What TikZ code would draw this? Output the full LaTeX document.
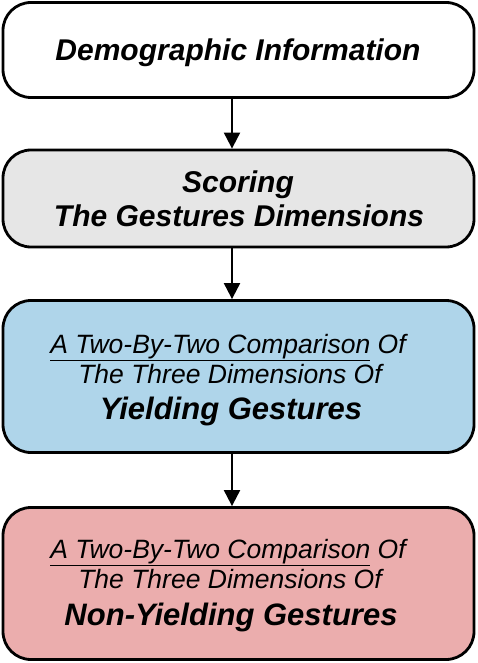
\documentclass[tikz,border=0pt]{standalone}
\usepackage{fontspec}
\setmainfont{Liberation Sans}
\usetikzlibrary{arrows.meta}
\definecolor{boxgray}{HTML}{E6E6E6}
\definecolor{boxblue}{HTML}{AFD5EA}
\definecolor{boxpink}{HTML}{EBADAD}
\begin{document}
\begin{tikzpicture}[x=1pt,y=-1pt,
  flowbox/.style={draw=black,line width=2.8pt,rounded corners=28pt,minimum width=471pt,inner sep=0pt},
  titletext/.style={anchor=base,inner sep=0pt,font=\fontsize{30}{34}\selectfont\bfseries\itshape},
  smalltext/.style={anchor=base,inner sep=0pt,font=\fontsize{26.5}{30}\selectfont\itshape},
  bigtext/.style={anchor=base,inner sep=0pt,font=\fontsize{31}{34}\selectfont\bfseries\itshape},
  flowarrow/.style={line width=2pt,-{Triangle[length=16pt,width=16pt]}}]
\useasboundingbox (0,0) rectangle (477,663);
\node[flowbox,fill=white,minimum height=95pt] (b1) at (238.5,50) {};
\node[flowbox,fill=boxgray,minimum height=97pt] (b2) at (238.5,198.5) {};
\node[flowbox,fill=boxblue,minimum height=152pt] (b3) at (238.5,376.5) {};
\node[flowbox,fill=boxpink,minimum height=152pt] (b4) at (238.5,583.5) {};
\node[titletext] (t1) at (238,61) {Demographic Information};
\node[titletext] (t2a) at (238,192.5) {Scoring};
\node[titletext] (t2b) at (239,226.5) {The Gestures Dimensions};
\node[smalltext] (t3a) at (228,353) {\underline{A Two-By-Two Comparison} Of};
\node[smalltext] (t3b) at (230,383) {The Three Dimensions Of};
\node[bigtext] (t3c) at (231,419) {Yielding Gestures};
\node[smalltext] (t4a) at (228,558) {\underline{A Two-By-Two Comparison} Of};
\node[smalltext] (t4b) at (230,588) {The Three Dimensions Of};
\node[bigtext] (t4c) at (231,625) {Non-Yielding Gestures};
\draw[flowarrow] (b1.south -| 232,0) -- (b2.north -| 232,0);
\draw[flowarrow] (b2.south -| 232,0) -- (b3.north -| 232,0);
\draw[flowarrow] (b3.south -| 232,0) -- (b4.north -| 232,0);
\end{tikzpicture}
\end{document}
